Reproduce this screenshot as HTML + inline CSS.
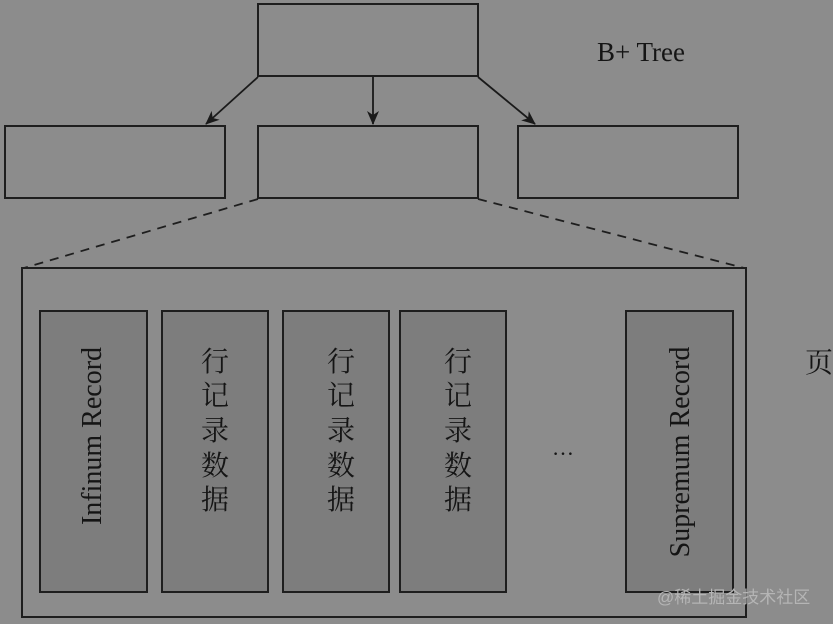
<!DOCTYPE html>
<html><head><meta charset="utf-8"><style>
html,body{margin:0;padding:0;background:#8c8c8c;}
svg{display:block;}
</style></head><body>
<svg width="833" height="624" viewBox="0 0 833 624" xmlns="http://www.w3.org/2000/svg">
<defs>
<marker id="a" markerWidth="14" markerHeight="14" refX="13" refY="6" orient="auto" markerUnits="userSpaceOnUse" viewBox="0 0 14 12">
<path d="M0,0 L14,6 L0,12 L4,6 Z" fill="#1a1a1a"/>
</marker>
</defs>
<rect width="833" height="624" fill="#8c8c8c"/>
<g fill="none" stroke="#1e1e1e" stroke-width="2">
<rect x="258" y="4" width="220" height="72"/>
<rect x="5" y="126" width="220" height="72"/>
<rect x="258" y="126" width="220" height="72"/>
<rect x="518" y="126" width="220" height="72"/>
<rect x="22" y="268" width="724" height="349"/>
</g>
<g stroke="#1a1a1a" stroke-width="1.8" marker-end="url(#a)">
<line x1="258" y1="77" x2="206" y2="124"/>
<line x1="373" y1="77" x2="373" y2="124"/>
<line x1="478" y1="77" x2="535" y2="124"/>
</g>
<g stroke="#1e1e1e" stroke-width="1.8" stroke-dasharray="9,7">
<line x1="258" y1="199" x2="24" y2="268"/>
<line x1="478" y1="199" x2="744" y2="268"/>
</g>
<g fill="#7d7d7d" stroke="#1e1e1e" stroke-width="2">
<rect x="40" y="311" width="107" height="281"/>
<rect x="162" y="311" width="106" height="281"/>
<rect x="283" y="311" width="106" height="281"/>
<rect x="400" y="311" width="106" height="281"/>
<rect x="626" y="311" width="107" height="281"/>
</g>
<g font-family="Liberation Serif, serif" fill="#151515">
<text x="597" y="61" font-size="27">B+ Tree</text>
<text transform="translate(101,436) rotate(-90)" font-size="28" text-anchor="middle">Infinum Record</text>
<text transform="translate(689,452) rotate(-90)" font-size="28" text-anchor="middle">Supremum Record</text>
<text x="563" y="455" font-size="22" text-anchor="middle">…</text>
</g>
<g font-family="Liberation Serif, 'Noto Serif CJK SC', serif" fill="#151515" font-size="28" text-anchor="middle">
<text x="215" y="371">行</text><text x="215" y="405">记</text><text x="215" y="440">录</text><text x="215" y="475">数</text><text x="215" y="509">据</text>
<text x="341" y="371">行</text><text x="341" y="405">记</text><text x="341" y="440">录</text><text x="341" y="475">数</text><text x="341" y="509">据</text>
<text x="458" y="371">行</text><text x="458" y="405">记</text><text x="458" y="440">录</text><text x="458" y="475">数</text><text x="458" y="509">据</text>
<text x="819" y="372">页</text>
</g>
<text x="657" y="603" font-family="Liberation Sans, 'Noto Sans CJK SC', sans-serif" font-size="17" fill="#b5b5b5">@稀土掘金技术社区</text>
</svg>
</body></html>
